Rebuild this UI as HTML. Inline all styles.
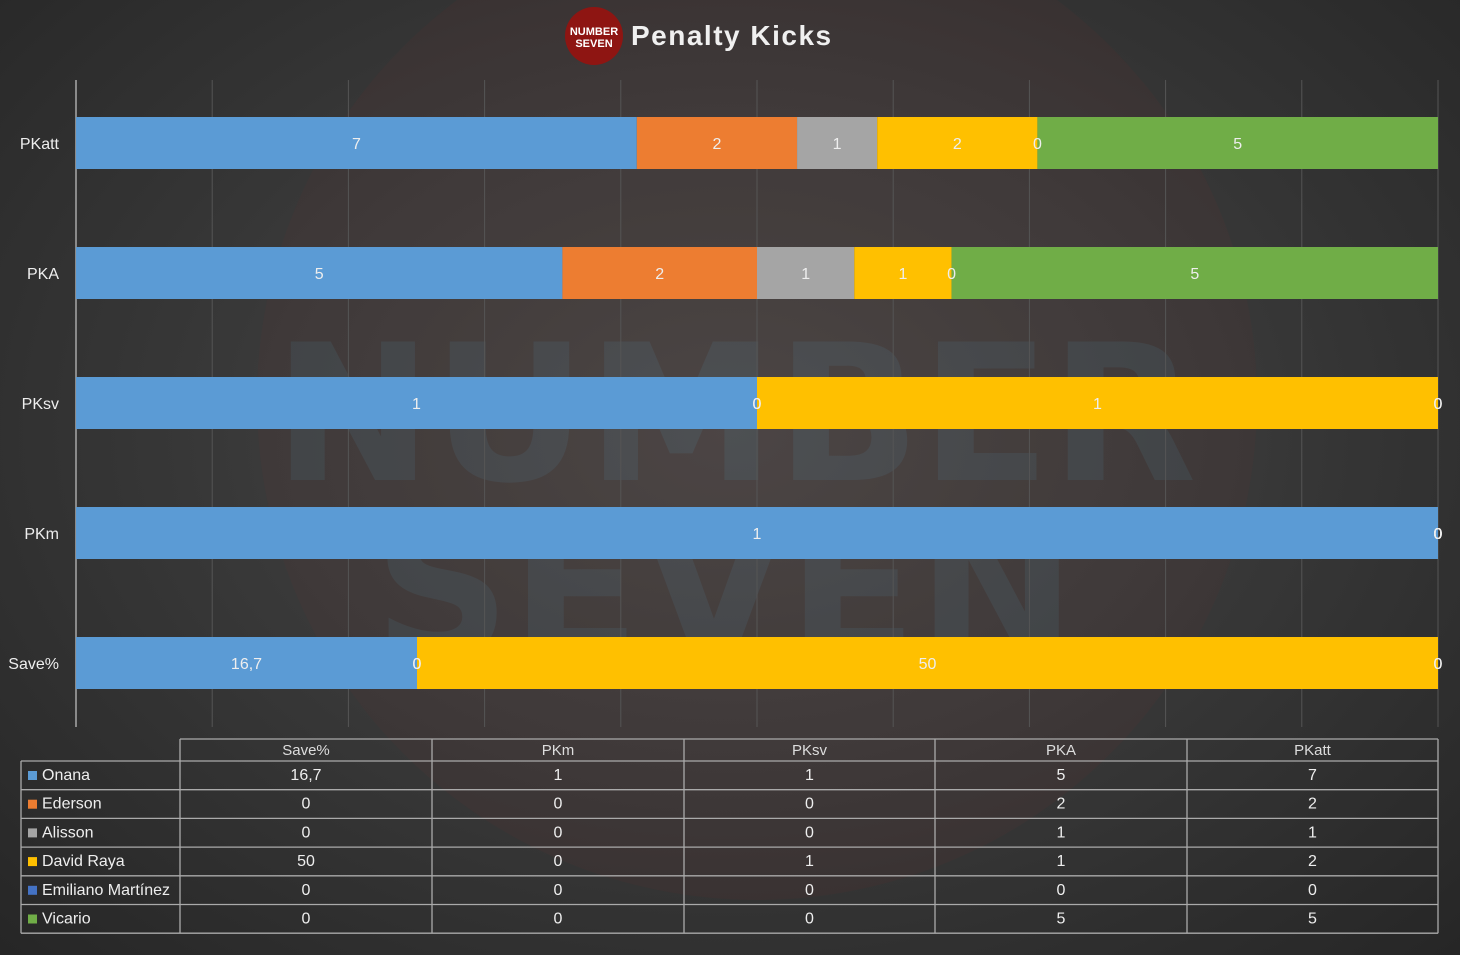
<!DOCTYPE html>
<html><head><meta charset="utf-8"><style>
body{margin:0;width:1460px;height:955px;overflow:hidden;background:radial-gradient(ellipse at 50% 45%,#474747 0%,#3a3a3a 45%,#262626 100%);font-family:"Liberation Sans","DejaVu Sans",sans-serif;}
</style></head><body>
<svg id="chart" width="1460" height="955" style="position:absolute;left:0;top:0">
<g id="watermark" opacity="0.09">
 <circle cx="757" cy="400" r="500" fill="#a0302a" opacity="0.6"/>
 <text x="735" y="480" text-anchor="middle" font-size="190" font-weight="bold" fill="#8fa8c8" font-family="DejaVu Sans, sans-serif">NUMBER</text>
 <text x="725" y="655" text-anchor="middle" font-size="190" font-weight="bold" fill="#8fa8c8" font-family="DejaVu Sans, sans-serif">SEVEN</text>
</g>
<g>
 <circle cx="594" cy="36" r="29" fill="#8e1512"/>
 <text x="594" y="35" text-anchor="middle" font-size="11" font-weight="bold" fill="#fff">NUMBER</text>
 <text x="594" y="47" text-anchor="middle" font-size="11" font-weight="bold" fill="#fff">SEVEN</text>
 <text x="631" y="45" font-size="28" font-weight="bold" fill="#f0f0f0" letter-spacing="1.5" font-family="Liberation Sans, sans-serif">Penalty Kicks</text>
</g>
<g id="grid"></g><g id="bars"></g><g id="labels"></g><g id="table"></g>
</svg>
<script>
const categories=["PKatt","PKA","PKsv","PKm","Save%"];
const players=["Onana","Ederson","Alisson","David Raya","Emiliano Martínez","Vicario"];
const colors=["#5b9bd5","#ed7d31","#a5a5a5","#ffc000","#4472c4","#70ad47"];
const onana=[7,5,1,1,16.7];
const ederson=[2,2,0,0,0];
const alisson=[1,1,0,0,0];
const raya=[2,1,1,0,50];
const martinez=[0,0,0,0,0];
const vicario=[5,5,0,0,0];
const series=[onana,ederson,alisson,raya,martinez,vicario];
const tableCols=["Save%","PKm","PKsv","PKA","PKatt"];

const NS="http://www.w3.org/2000/svg";
function mk(tag,attrs,parent){const e=document.createElementNS(NS,tag);for(const k in attrs)e.setAttribute(k,attrs[k]);parent.appendChild(e);return e;}
const x0=76,x1=1438,yTop=80,yBot=727;
const xs=p=>x0+(x1-x0)*p;
const ys=i=>143+130*i;
const bh=52;
const fmt=v=>String(v).replace('.',',');
const grid=document.getElementById('grid');
for(let i=0;i<=10;i++){const l=mk('line',{x1:xs(i/10),x2:xs(i/10),y1:yTop,y2:yBot,stroke:i==0?'#8a8a8a':'#555','stroke-width':i==0?2:1},grid);
}
const bars=document.getElementById('bars');
const labels=document.getElementById('labels');
categories.forEach((c,ci)=>{
 const t=mk('text',{x:59,y:ys(ci)+6,'text-anchor':'end','font-size':16,fill:'#eee'},labels);t.textContent=c;
 
 const tot=series.reduce((s,a)=>s+a[ci],0);let cum=0;
 series.forEach((arr,si)=>{const v=arr[ci];const a=xs(cum/tot),b=xs((cum+v)/tot);cum+=v;
  if(v>0){const r=mk('rect',{x:a,y:ys(ci)-bh/2,width:b-a,height:bh,fill:colors[si]},bars);
   }
  const lt=mk('text',{x:(a+b)/2,y:ys(ci)+6,'text-anchor':'middle','font-size':16,fill:'#eee'},labels);lt.textContent=fmt(v);
  
 });
});
const tb=document.getElementById('table');
const cx=[180,432,684,935,1187,1438];const hy=739,ry0=761,rh=28.7;
const ln=(a,b,c,d)=>{const l=mk('line',{x1:a,y1:b,x2:c,y2:d,stroke:'#aaa','stroke-width':1.3},tb);};
ln(180,hy,1438,hy);
for(let r=0;r<=6;r++)ln(21,ry0+r*rh,1438,ry0+r*rh);
ln(21,ry0,21,ry0+6*rh);cx.forEach(x=>ln(x,hy,x,ry0+6*rh));
tableCols.forEach((c,i)=>{const t=mk('text',{x:(cx[i]+cx[i+1])/2,y:hy+16,'text-anchor':'middle','font-size':15,fill:'#ddd'},tb);t.textContent=c;
 });
players.forEach((p,pi)=>{const y=ry0+pi*rh;
 const s=mk('rect',{x:28,y:y+10,width:9,height:9,fill:colors[pi]},tb);
 const t=mk('text',{x:42,y:y+19,'font-size':16,fill:'#eee'},tb);t.textContent=p;
 tableCols.forEach((c,i)=>{const ci=categories.indexOf(c);const v=mk('text',{x:(cx[i]+cx[i+1])/2,y:y+19,'text-anchor':'middle','font-size':16,fill:'#eee'},tb);v.textContent=fmt(series[pi][ci]);
  });
});
</script>
</body></html>
